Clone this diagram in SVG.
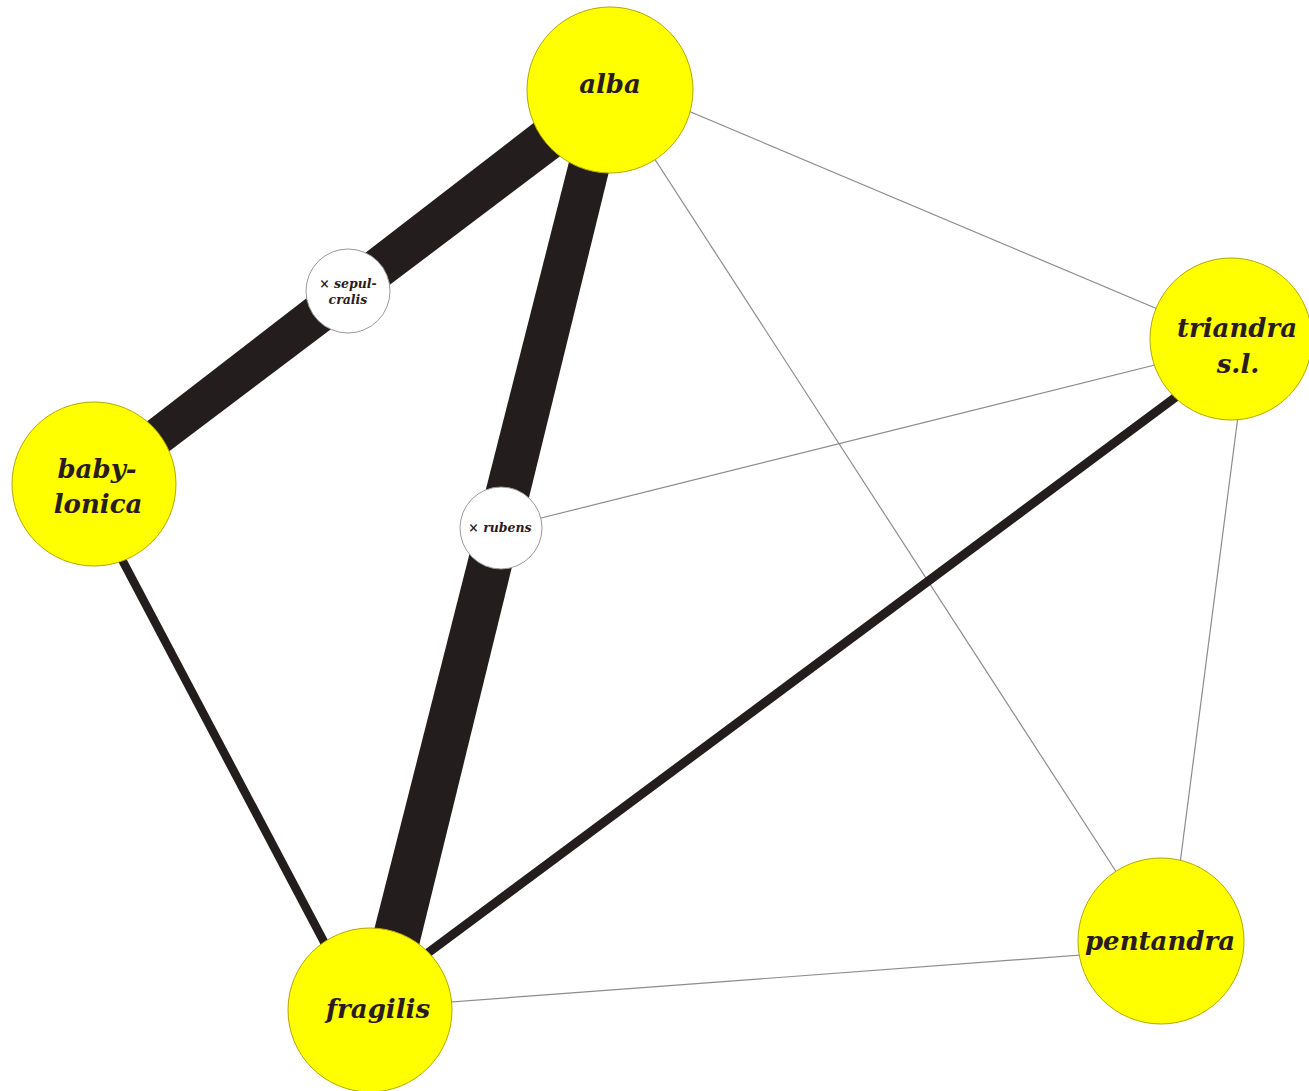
<svg xmlns="http://www.w3.org/2000/svg" width="1309" height="1091" viewBox="0 0 1309 1091">
<style>
.bg{fill:#ffffff}
.thin{stroke:#8c8c8c;stroke-width:1.2;fill:none}
.mid{stroke:#231d1d;stroke-width:9;fill:none}
.thick{fill:#231d1d;stroke:none}
.species circle{fill:#ffff00;stroke:#b5a800;stroke-width:1}
.hybrid circle{fill:#ffffff;stroke:#9a9a9a;stroke-width:1}
.lbl{font-family:"DejaVu Serif","Liberation Serif",serif;font-style:italic;font-weight:bold;font-size:26px;fill:#2a1c1c;text-anchor:middle}
.hl{font-family:"DejaVu Serif","Liberation Serif",serif;font-style:italic;font-weight:bold;font-size:12.5px;fill:#2a1c1c;text-anchor:middle}
</style>
<rect class="bg" x="0" y="0" width="1309" height="1091"/>
<g id="connectors">
  <line class="thin" x1="610" y1="78" x2="1231" y2="340"/>
  <line class="thin" x1="610" y1="90" x2="1161" y2="941"/>
  <line class="thin" x1="1248" y1="339" x2="1170" y2="941"/>
  <line class="thin" x1="501" y1="528" x2="1231" y2="346"/>
  <line class="thin" x1="370" y1="1008" x2="1161" y2="949"/>
  <line class="mid" x1="370" y1="996" x2="1231" y2="356"/>
  <line class="mid" style="stroke-width:8.5" x1="82" y1="484" x2="360" y2="1010"/>
  <polygon class="thick" points="597,74 624,108 106,499 84,470"/>
  <polygon class="thick" points="588,87 628,94 402,1015 355,1005"/>
</g>
<g id="node-sepulcralis" class="hybrid">
  <circle cx="348" cy="291" r="42"/>
  <text class="hl" x="348" y="288">× sepul-</text>
  <text class="hl" x="348" y="304">cralis</text>
</g>
<g id="node-rubens" class="hybrid">
  <circle cx="501" cy="528" r="41"/>
  <text class="hl" x="500" y="532">× rubens</text>
</g>
<g id="node-alba" class="species">
  <circle cx="610" cy="90" r="83"/>
  <text class="lbl" x="610" y="93">alba</text>
</g>
<g id="node-triandra" class="species">
  <circle cx="1231" cy="339" r="81"/>
  <text class="lbl" x="1237" y="337">triandra</text>
  <text class="lbl" x="1238" y="373">s.l.</text>
</g>
<g id="node-babylonica" class="species">
  <circle cx="94" cy="484" r="82"/>
  <text class="lbl" x="97" y="478">baby-</text>
  <text class="lbl" x="98" y="513">lonica</text>
</g>
<g id="node-fragilis" class="species">
  <circle cx="370" cy="1010" r="82"/>
  <text class="lbl" x="378" y="1018">fragilis</text>
</g>
<g id="node-pentandra" class="species">
  <circle cx="1161" cy="941" r="83"/>
  <text class="lbl" x="1160" y="950">pentandra</text>
</g>
</svg>
